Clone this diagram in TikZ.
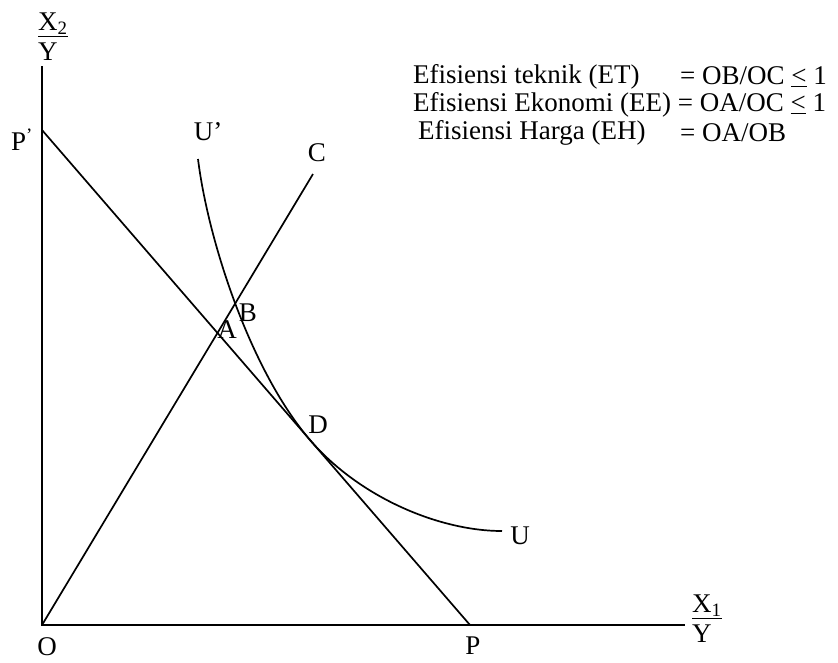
\documentclass[tikz,border=0pt]{standalone}
\usepackage{fontspec}
\setmainfont{Liberation Serif}
\usetikzlibrary{calc}

\begin{document}
\begin{tikzpicture}[x=1pt, y=-1pt]
\tikzstyle{axis}=[line width=2.2pt]
\tikzstyle{curve}=[line width=1.7pt]
\tikzstyle{lbl}=[inner sep=0pt, font=\fontsize{27}{30}\selectfont]

\useasboundingbox (0,0) rectangle (838,662);

\path (42,625) coordinate (O)
      (42,66) coordinate (Ytop)
      (685,625) coordinate (Xend)
      (42,130) coordinate (Pp)
      (470,625) coordinate (P)
      (313,174) coordinate (C)
      (198,159) coordinate (Ut)
      (310,440) coordinate (D)
      (502,531) coordinate (U);

% axis labels
\path (38,37) node[lbl, anchor=west, align=left] (ylab) {\underline{X\textsubscript{2}}\\Y}
      (692,619) node[lbl, anchor=west, align=left] (xlab) {\underline{X\textsubscript{1}}\\Y}
      (47,647) node[lbl] (lO) {O}
      (473,646) node[lbl] (lP) {P}
      (22,140) node[lbl] (lPp) {P\textsuperscript{'}}
      (208,132) node[lbl] (lUt) {U’}
      (317,153) node[lbl] (lC) {C}
      (227,330) node[lbl] (lA) {A}
      (248,313) node[lbl] (lB) {B}
      (318,425) node[lbl] (lD) {D}
      (520,536) node[lbl] (lU) {U};

% efficiency ratios
\path (413,77) node[lbl, anchor=west] (et) {Efisiensi teknik (ET)}
      (680,77) node[lbl, anchor=west] (etv) {= OB/OC \underline{<} 1}
      (413,105) node[lbl, anchor=west] (ee) {Efisiensi Ekonomi (EE) = OA/OC \underline{<} 1}
      (418,133) node[lbl, anchor=west] (eh) {Efisiensi Harga (EH)}
      (680,133) node[lbl, anchor=west] (ehv) {= OA/OB};

\draw[axis] (Ytop) -- (O) -- (Xend);
\draw[curve] (Pp) -- (P);
\draw[curve] (O) -- (C);
\draw[curve] (Ut) .. controls (208,240) and (250,370) .. (D)
             .. controls (360,498) and (440,531) .. (U);

\end{tikzpicture}
\end{document}
